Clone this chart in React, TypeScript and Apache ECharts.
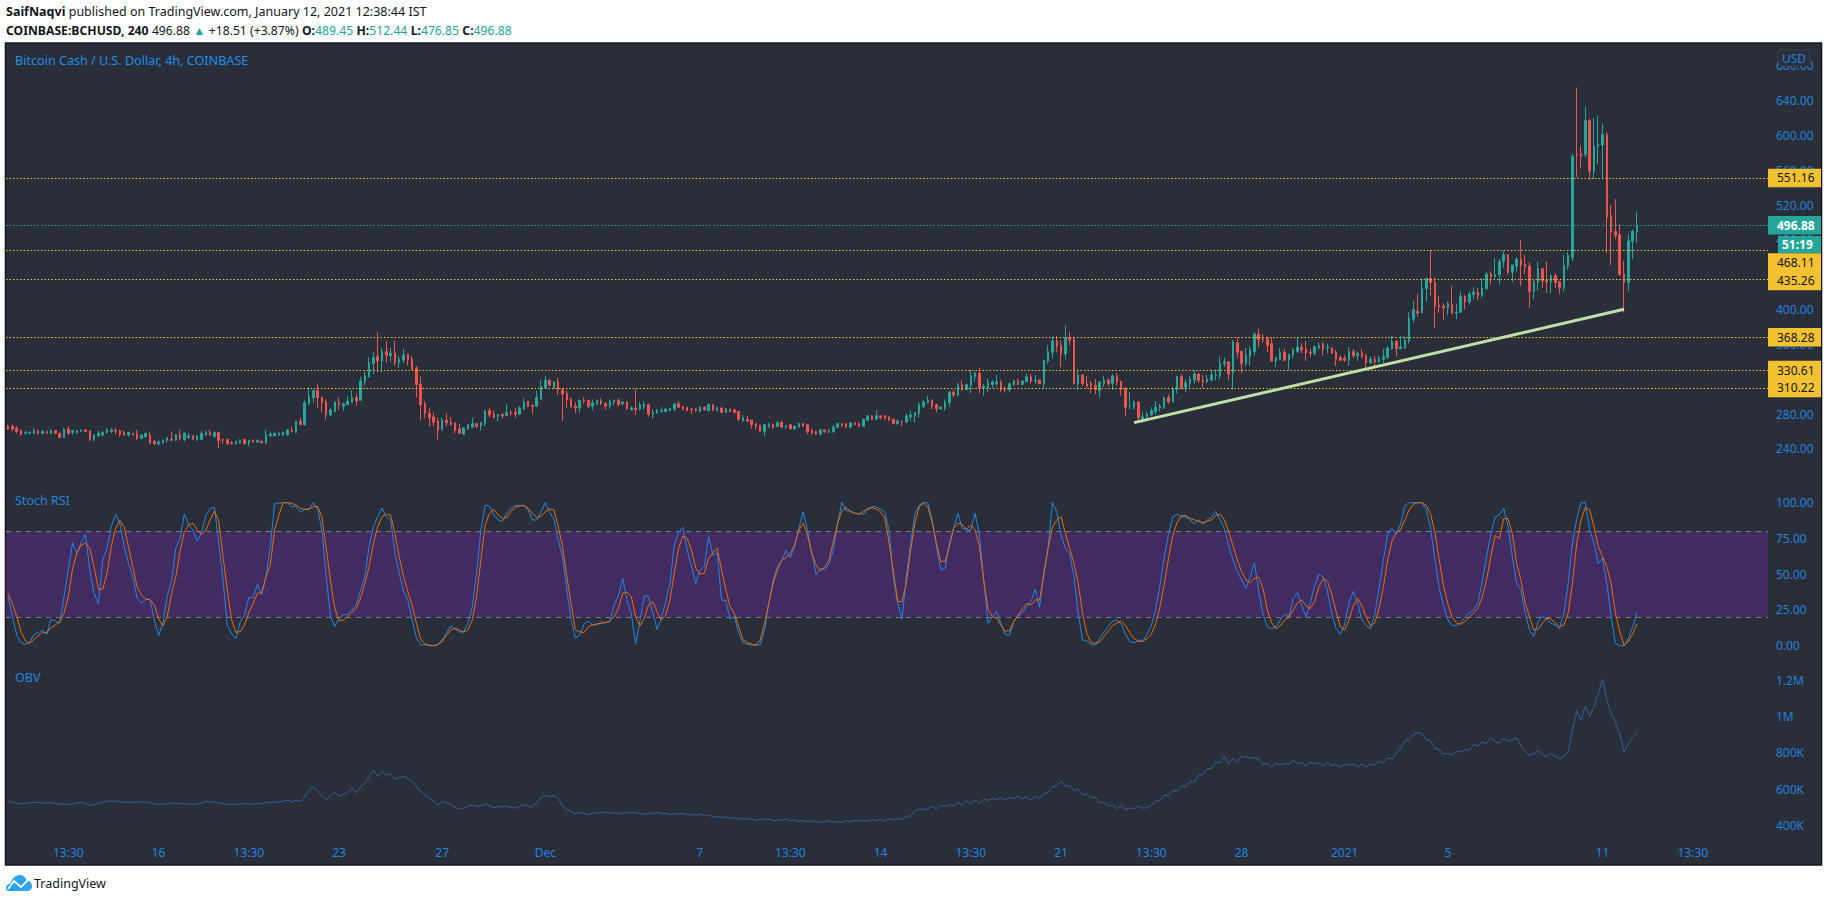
import React, { useEffect, useRef } from "react";
import * as echarts from "echarts";

const BG = "#2A2E39";
const BLUE = "#2183DE";
const TITLE_BLUE = "#1E8CEB";
const UP = "#26A69A";
const DOWN = "#EF5350";
const YEL = "#F2C230";
const FONT = "'Noto Sans', sans-serif";

const slotCount = 410;
const xLabelIndex = [14, 35, 56, 77, 101, 125, 161, 182, 203, 224, 245, 266, 287, 311, 335, 371, 392];
const xLabelText = ["13:30", "16", "13:30", "23", "27", "Dec", "7", "13:30", "14", "13:30", "21", "13:30", "28", "2021", "5", "11", "13:30"];

// [open, close, low, high]
const ohlc = [
[266,263,262,268],[266,263,260,268],[264,260,258,266],[261,257,255,262],[258,259,256,261],[258,259,257,260],[258,261,257,264],[261,258,256,262],[258,260,257,262],[260,258,258,261],
[258,261,257,263],[261,258,257,261.5],[258,253,253,259],[253,263,253,264],[263,258,256,266],[259,261,256,262],[259,261,257,262],[260,262,260,262],[262,260,260,262],[261,251,249,261],
[251,256,249,257],[255,258,254,261],[256,259,254,260],[259,262,258,264],[260,262,258,264],[261.5,260.5,257,264],[261,257,254,262],[259,256,255,261],[256,259,254,260],[258,256,256,258],
[258,252,250,262],[252,256,251,257],[254,258,253,259],[256,247,246,260],[249,246,244,250],[246,248,244,251],[247,250,246,251],[250,253,247,254],[251,250,249,260],[250,256,249,257],
[256,252,250,262],[251,258,249,259],[253,255,252,258],[255,251,251,256],[250,255,250,256],[251,258,251,260],[256,259,255,261],[259,256,255,262],[254,259,253,260],[259,250,241,260],
[251,250,246,251],[251,246,245,251],[247,246,245,249],[246,249,245,249.5],[247,250,246,251],[251,246,246,251],[247,250,243,250],[250,248,247,251],[248,250,247,251],[249,247,247,249],
[247,257,246,262],[255,257,254,260],[255,258,255,259],[256,258,255,260],[256,259,255,260],[256,262,256,262],[261,260,259,266],[259,272,258,272],[272,268,267,276],[268,293,267,296],
[292,300,290,311],[299,307,293,309],[307,299,287,315],[299,293,282,300],[294,279,274,297],[279,285,278,287],[283,294,282,295],[293,291,285,299],[289,292,284,293],[291,295,290,301],
[293,299,293,307],[299,295,290,304],[296,318,296,323],[317,324,313,329],[323,339,322,345],[338,345,326,351],[346,341,328,374],[341,352,328,356],[352,347,339,364],[347,350,340,356],
[350,339,336,364],[339,343,333,347],[342,348,339,355],[349,342,336,349],[343,331,331,347],[333,314,299,335],[314,291,273,323],[292,281,275,295],[281,276,266,287],[277,271,266,282],
[272,261,251,276],[262,273,261,276],[273,270,266,281],[271,268,267,277],[270,261,258,270],[263,258,257,269],[257,264,256,265],[263,268,262,268],[265,269,264,276],[269,266,264,269],
[266,270,261,271],[269,284,266,284],[284,279,276,287],[280,276,275,284],[277,280,272,280],[280,278,275,280],[278,282,278,291],[282,281,278,285],[282,280,276,287],[280,287,279,289],
[286,294,285,298],[295,289,288,295],[290,289,280,291],[289,299,289,307],[297,312,297,319],[310,319,309,324],[319,313,312,320],[310,317,309,318],[317,308,302,322],[308,303,272,310],
[304,296,287,307],[297,288,288,299],[289,287,281,294],[287,296,282,296],[296,295,292,299],[296,289,287,296],[289,293,285,297],[291,296,291,296],[295,292,290,298],[292,289,285,294],
[289,295,286,297],[294,296,290,296],[296,291,289,298],[292,294,290,295],[294,286,285,295],[285,287,284,289],[287,285,279,309],[286,291,284,294],[288,291,285,295],[291,280,277,291],
[280,282,275,286],[281,284,281,286],[283,284,282,288],[283,286,282,286],[284,287,284,287],[286,292,283,292],[292,288,287,295],[289,286,284,289],[288,284,284,288],[286,285,280,286],
[286,284,282,287],[283,288,282,289],[288,285,284,289],[284,291,283,292],[291,284,284,291],[284,287,283,289],[287,282,282,288],[282,286,282,287],[286,283,282,286],[285,282,281,286],
[283,274,272,283],[272,276,271,279],[274,272,271,278],[273,268,263,273],[269,266,262,270],[267,260,259,268],[260,268,255,268],[266,268,264,270],[268,265,263,269],[266,270,265,272],
[271,265,265,271],[265,267,263,267],[268,263,262,269],[263,266,262,267],[265,269,265,270],[269,266,266,270],[268,260,257,268],[261,258,257,263],[260,257,256,261],[257,262,256,263],
[262,260,258,262],[260,261,258,263],[260,265,258,268],[265,269,264,270],[269,267,265,270],[269,265,264,269],[265,270,265,270],[270,268,267,271],[269,266,266,271],[266,274,266,275],
[273,278,272,279],[278,274,273,279],[274,278,274,284],[278,276,274,279],[278,275,273,279],[277,273,272,277],[274,269,269,275],[269,272,268,274],[272,271,266,272],[271,278,270,281],
[277,279,272,284],[278,282,271,282],[281,291,276,294],[289,294,287,296],[293,296,292,301],[296,289,286,297],[291,286,282,292],[286,288,285,289],[287,294,284,297],[293,305,288,307],
[305,302,299,308],[302,314,300,316],[314,308,307,319],[308,314,308,315],[313,324,304,331],[323,327,317,329],[327,310,304,333],[310,312,301,315],[310,316,305,321],[314,317,310,319],
[315,317,312,325],[317,308,305,319],[309,308,305,312],[308,315,305,316],[314,318,312,320],[318,314,313,321],[314,318,313,318],[317,323,317,327],[323,318,315,326],[318,319,315,325],
[319,315,315,320],[315,342,310,342],[341,352,338,359],[351,364,344,369],[364,358,351,370],[359,349,334,365],[349,367,343,382],[367,365,359,374],[366,315,314,369],[315,325,308,331],
[325,315,312,326],[315,312,310,324],[315,312,304,318],[313,308,303,320],[307,317,299,318],[315,319,311,324],[319,315,312,321],[315,324,308,326],[324,317,313,327],[318,308,301,318],
[309,288,277,311],[289,290,286,305],[288,294,285,296],[294,276,271,295],[274,277,270,283],[277,280,273,283],[279,284,278,288],[283,288,279,295],[287,289,283,292],[288,299,286,300],
[299,294,292,303],[294,309,294,311],[308,323,304,324],[323,310,308,326],[311,316,305,320],[315,320,309,324],[319,326,315,330],[326,319,316,327],[319,317,310,325],[317,320,316,325],
[319,325,318,331],[324,325,319,331],[324,338,320,346],[338,340,334,345],[340,326,319,341],[327,363,308,365],[362,351,344,368],[352,338,327,353],[338,348,335,356],[346,354,336,358],
[352,372,347,374],[372,365,357,378],[366,365,362,372],[367,359,351,369],[361,341,341,368],[341,345,334,346],[343,351,342,356],[351,342,341,355],[342,349,331,349],[348,354,344,356],
[352,357,350,368],[357,354,350,361],[355,350,341,364],[351,350,346,355],[350,357,347,359],[356,359,354,362],[361,354,347,363],[356,357,350,361],[356,350,349,357],[351,343,335,354],
[345,342,341,347],[344,342,340,348],[342,352,336,357],[352,347,344,355],[347,350,341,352],[350,346,344,355],[347,339,333,349],[339,343,338,346],[343,340,335,347],[340,344,339,347],
[343,346,339,355],[345,356,343,358],[355,363,354,370],[364,355,346,364],[355,357,355,370],[356,365,355,369],[364,390,361,397],[389,400,385,410],[398,396,392,418],[396,425,396,436],
[424,436,409,437],[436,431,416,469],[431,404,379,437],[405,403,396,416],[404,402,388,407],[402,407,394,409],[406,396,395,427],[396,397,389,407],[397,415,396,421],[415,409,400,417],
[409,418,406,421],[417,420,412,426],[420,416,411,425],[416,425,414,436],[424,441,423,443],[441,438,429,444],[438,440,436,459],[440,455,429,458],[455,463,448,468],[463,443,440,464],
[443,451,432,452],[450,458,444,460],[458,451,427,480],[452,449,441,463],[450,421,402,454],[421,432,412,434],[431,447,422,455],[447,433,425,447],[434,432,419,455],[432,439,419,441],
[439,431,425,442],[432,425,418,433],[425,451,421,463],[450,462,446,466],[460,576,456,579],[579,578,552,655],[579,576,562,588],[578,617,575,633],[617,559,549,619],[559,588,550,620],
[587,590,567,623],[589,601,550,614],[601,506,465,604],[508,489,451,520],[490,485,481,527],[486,440,439,498],[441,431,397,456],[431,479,421,487],[478,490,458,492],[489.45,496.88,476.85,512.44],
];

const stochK = [
34.3,20.3,7.5,2.1,1,2.4,8,9.1,10.8,8,18.5,17.3,15.7,34.3,53,72.1,64.6,72.3,77.9,53,
36.6,29.2,60,68.1,83.3,91.9,85.6,69.3,57.6,48.3,33.2,29.6,32.4,32.4,18,7,15.7,34.3,44.8,68.1,
75.1,92.1,84.4,80.9,73.2,78.6,91.4,95.6,96.8,71.6,46,14,8.7,5,16.8,21.3,33.6,33.4,43,35.5,
48.3,69.3,99.6,99.6,100,100,97.3,97.3,93.3,95.4,95.4,100,95.6,80.9,48.3,20.8,13.3,19.2,21.7,22,
25,28.5,39,48.3,69.3,83.3,90.3,96.1,90.3,87.9,64.6,50.6,37.8,32,18,5.6,0.5,0.5,0.5,0,
0.5,4,8.7,13.8,11.7,9.6,9.6,15.7,27.3,50.6,80.9,98.2,97.7,91.4,87.9,87,92.6,96.1,98,98,
98.2,94.9,87.9,87.9,93.8,100,93.3,88.4,73.9,62.3,39,18,5.2,7.5,15.2,17.3,
14.5,14.5,16.8,16.1,16.8,28.5,34.7,47.1,32,22.2,1.2,16.8,34.7,34.7,22.6,11.4,19.1,30.8,43.6,70.4,
79,82.8,66.9,55.3,43.6,53,55.3,76.3,63.4,65,32,31.5,18.4,20.3,8.6,2.1,1,0.5,0.5,0.5,
11,29.6,45.9,55.3,59.5,66.5,61.6,69.3,82.1,93.5,80.9,64.6,49.9,54.1,53,57.1,66.9,85.6,100,94.4,
94.4,92.6,92.1,92.1,94.9,97.2,97.2,95.4,93.7,79.7,47.1,29.6,18.4,48.3,71.6,92.6,98.4,100,100,87.9,
69.3,53,54.1,71.6,82.1,92.6,82.1,80.9,80.9,92.6,77.4,45.9,15.6,20.3,23.8,15.6,7.9,7.2,16.8,20.8,
23.1,27.3,30.8,39.4,26.8,51.8,69.3,100,93.7,77.4,68.1,64.6,48.3,22.6,4,3.5,0.5,0.5,5.1,9.8,13.8,
17,18,15,8,3,2,4,3,8,14,25,42,62,78,90,92,90,90,88,85,88,85,88,90,94,88,82,70,60,52,
46,40,48,58,38,22,13,12,13,18,22,20,33,37,28,20,30,42,50,48,38,22,12,8,15,30,38,30,18,14,
12,22,40,60,78,82,78,85,98,100,100,100,100,95,82,60,40,28,18,14,14,16,20,23,25,30,45,62,78,90,
91.4,96.1,83.3,62.3,43.6,39,22.7,11,6.3,16.8,20.8,18.5,15.7,14.5,12,22.7,43.6,71.6,89.1,100,100,81,71.6,57.2,61.1,43.6,20.3,1.6,0,0,5,13,23.1,
];

const stochD = [
36.6,29.2,20.3,9.8,3.5,1.7,4.5,7,9.4,9.2,12.6,14.5,16.8,22.7,34.3,54.1,64.6,70.4,71.6,68.1,
55.3,39.4,39.4,50.6,69.3,82.1,87.5,82.8,69.3,55.3,41.3,35.5,32.4,32.4,28.5,19.2,13.8,20.3,35.5,48.3,
65.8,79.8,84.4,85.6,80.9,77.9,80.9,87.9,94.5,86.8,62.3,39,18,9.4,9.8,14.5,23.1,29.6,36.6,37.1,
48.3,56.5,80.9,91.4,100,100,99.6,98.4,96.1,95.4,95.4,97.3,97.3,90.3,68.1,46,26.2,17.5,18,20.3,
23.4,26.2,33.2,43.6,55.3,71.6,83.3,90.3,91.9,91.2,78.6,62.3,48.3,37.8,28.5,15.7,4.5,1.2,0,0,
1,2.8,7.5,11,12.2,11,9.6,11,18,34.3,60,84.4,92.6,95.4,91.4,88.9,89.6,93.8,96.6,97.7,
98,96.1,92.6,89.6,90.3,93.8,95.6,94.9,83.3,69.3,48.3,29.6,11,9.8,9.1,13.3,
14.5,15.2,15.6,16.1,17.3,20.3,26.1,36.6,37.5,34.3,20.3,14,19.1,28.5,30.8,23.8,18,21.5,32,50.6,
68.1,76.7,75.1,66.9,54.1,50.1,50.6,61.1,65,68.1,53,39,27.3,22.2,13.3,4,2.4,1,0.3,4,
15.6,29.6,43.6,53,59.9,61.6,64.6,70.4,80.9,85.6,77.4,64.6,56.4,52.5,54.8,59.9,72.8,85.6,94.4,96.8,
93.7,92.6,92.1,93.7,96.1,96.5,95.6,93.7,89.1,71.6,51.8,30.8,30.8,43.6,66.9,85.6,97.2,99.6,97.2,86.7,
71.6,58.8,58.8,69.3,82.1,85.6,84.9,81.4,84.4,80.9,69.3,45.9,26.1,20.3,19.1,14.5,10.3,10.5,16.8,21.5,
25.4,29.6,28.5,32,32,49.4,68.1,83.2,87.9,90.2,78.6,68.1,57.6,43.6,22.6,8.6,2.1,1.6,2.8,6.3,10.5,
14,16,17,14,9,5,3,3,5,8,15,27,43,61,77,86,91,91,89,88,87,86,87,88,91,92,88,80,70,60,
52,46,44,47,48,40,25,16,12,14,18,20,25,30,32,28,26,31,41,47,45,36,24,13,11,18,28,33,28,20,
14,16,26,41,60,73,79,81,88,95,99,100,100,98,92,79,60,42,29,20,16,15,17,20,23,26,34,46,62,77,
75,88.9,88.9,78.6,57.6,46,29.7,20.3,11,11.5,15.7,19.2,18.5,16.1,13.3,14.5,22.7,43.6,71.6,87.9,96.6,95,83.3,69.3,62.3,55.3,43.6,22.7,10,0.2,3,8,15.2,
];

const obv = [
535,528,522,519,522,524,528,526,522,526,526,520,517,517,515,519,524,528,519,511,
515,522,528,533,535,533,530,528,528,528,528,530,530,526,519,517,519,520,522,522,
520,519,517,517,519,524,532,530,530,524,520,517,515,517,519,520,519,519,519,520,
526,528,528,530,533,539,530,539,532,556,593,615,587,565,543,563,583,561,570,582,
608,580,615,633,667,704,671,698,678,685,654,663,671,658,645,615,589,569,550,533,
513,532,524,517,500,489,496,506,513,506,508,522,508,498,504,506,508,500,495,506,
513,508,500,528,556,565,557,565,546,504,487,478,465,472,467,458,467,470,
470,474,468,470,463,468,472,468,473,464,462,467,463,
472,465,468,459,466,462,466,458,461,456,463,456,458,447,449,
441,447,440,443,434,441,435,436,428,436,433,435,426,431,429,
436,427,431,423,427,420,426,417,421,418,426,417,422,416,426,420,428,424,428,423,
434,425,431,424,437,428,438,434,450,452,482,486,492,488,506,
490,510,505,516,506,526,512,534,520,540,522,545,538,549,542,553,540,556,546,562,
546,558,540,562,548,575,584,612,618,645,618,620,592,598,568,
574,552,556,524,528,506,512,492,510,488,496,492,510,494,498,
512,535,540,566,566,592,590,618,612,642,640,680,680,712,716,748,745,782,738,772,
748,782,778,772,774,766,738,742,722,742,735,741,739,758,742,746,729,750,740,744,
726,746,730,736,722,740,732,741,724,738,722,741,734,754,746,774,768,798,822,868,
872,902,912,908,872,868,826,818,792,798,788,808,806,818,814,846,838,860,854,888,862,
856,880,865,870,885,839,811,787,798,811,793,778,796,781,769,782,806,926,1032,982,1059,1000,1056,1130,1207,1093,1019,972,908,806,852,885,915,
];

const priceLevels = [551.16, 468.11, 435.26, 368.28, 330.61, 310.22];
const priceLabelShift = [0, 12.3, 2, 0, 0, 0];
const tickLevels = [551.16, 496.88, 454, 435.26, 368.28, 330.61, 310.22];
const lastPrice = 496.88;
const stochBands = [80, 20];
const trendFrom = [262, 270.2];
const trendTo = [376, 400.4];

const gridL = 6;
const gridR = 1768;

echarts.graphic.registerShape(
  "tvcloud",
  echarts.graphic.extendPath(
    "M0 13 C0 10.5 2 8.8 4.5 8.5 C6 4 9 0 13.5 0 C17 0 19.5 2 20.5 5 C23.5 5.5 26 8 26 11 C26 14 24 16 21 16 L3 16 C1 16 0 15 0 13Z",
    {}
  )
);

export default function App() {
  const ref = useRef<HTMLDivElement>(null);
  useEffect(() => {
    const chart = echarts.init(ref.current!, undefined, { renderer: "svg" });
    const categories = Array.from({ length: slotCount }, (_, i) => String(i));
    const labelAt = new Map(xLabelIndex.map((ix, k) => [ix, xLabelText[k]]));
    const hiddenX = { type: "category", data: categories, show: false, boundaryGap: true };
    const yBase = {
      position: "right",
      axisLine: { show: false },
      axisTick: { show: false },
      splitLine: { show: false },
      scale: false,
    };
    const lab = (formatter: any) => ({ color: BLUE, fontSize: 12, fontFamily: FONT, margin: 8, formatter });

    const priceTag = (v: number, shift: number) => [
      {
        x: gridL,
        yAxis: v,
        lineStyle: { color: YEL, type: [1.5, 2], width: 1 },
        label: {
          show: true,
          position: "end",
          distance: 0,
          formatter: v.toFixed(2),
          backgroundColor: YEL,
          color: "#131722",
          fontSize: 12,
          fontFamily: FONT,
          padding: [2, 0, 2, 9],
          width: 44,
          height: 14.7,
          lineHeight: 14.7,
          offset: [0, shift],
        },
      },
      { x: gridR, yAxis: v },
    ];
    const tick = (v: number) => [
      { x: gridR, yAxis: v, lineStyle: { color: "#131722", type: "solid", width: 1 }, label: { show: false } },
      { x: gridR + 5, yAxis: v },
    ];

    const option: any = {
      animation: false,
      backgroundColor: "#FFFFFF",
      tooltip: { show: false },
      legend: { show: false },
      grid: [
        { left: gridL, width: gridR - gridL, top: 44, height: 439.8, containLabel: false },
        { left: gridL, width: gridR - gridL, top: 466.95, height: 214.5, containLabel: false },
        { left: gridL, width: gridR - gridL, top: 644.2, height: 217.5, containLabel: false },
      ],
      xAxis: [
        { ...hiddenX, gridIndex: 0 },
        { ...hiddenX, gridIndex: 1 },
        {
          type: "category",
          data: categories,
          gridIndex: 2,
          boundaryGap: true,
          axisLine: { show: false },
          axisTick: { show: false },
          splitLine: { show: false },
          axisLabel: {
            inside: true,
            margin: 3,
            color: BLUE,
            fontSize: 12,
            fontFamily: FONT,
            interval: (i: number) => labelAt.has(i),
            formatter: (_: string, i: number) => labelAt.get(i) ?? "",
          },
        },
      ],
      yAxis: [
        {
          ...yBase,
          type: "value",
          gridIndex: 0,
          min: 200,
          max: 705,
          interval: 40,
          axisLabel: lab((v: number) => (v >= 240 && v % 40 === 0 ? v.toFixed(2) : "")),
        },
        {
          ...yBase,
          type: "value",
          gridIndex: 1,
          min: -25,
          max: 125,
          interval: 25,
          axisLabel: lab((v: number) => (v >= 0 && v <= 100 ? v.toFixed(2) : "")),
        },
        {
          ...yBase,
          type: "value",
          gridIndex: 2,
          min: 200,
          max: 1400,
          interval: 200,
          axisLabel: lab((v: number) =>
            v < 400 || v > 1200 ? "" : v >= 1000 ? `${+(v / 1000).toFixed(1)}M` : `${v}K`
          ),
        },
      ],
      series: [
        {
          type: "candlestick",
          name: "BCHUSD",
          xAxisIndex: 0,
          yAxisIndex: 0,
          data: ohlc,
          barWidth: 2,
          z: 3,
          itemStyle: { color: UP, color0: DOWN, borderColor: UP, borderColor0: DOWN, borderWidth: 1 },
          markLine: {
            silent: true,
            symbol: ["none", "none"],
            z: 6,
            data: [
              ...priceLevels.map((v, k) => priceTag(v, priceLabelShift[k])),
              [
                {
                  x: gridL,
                  yAxis: lastPrice,
                  lineStyle: { color: UP, type: [1.5, 2], width: 1 },
                  label: {
                    show: true,
                    position: "end",
                    distance: 0,
                    formatter: lastPrice.toFixed(2),
                    backgroundColor: UP,
                    color: "#FFFFFF",
                    fontWeight: "bold",
                    fontSize: 12,
                    fontFamily: FONT,
                    padding: [2, 0, 2, 9],
                    width: 44,
                    height: 14.7,
                    lineHeight: 14.7,
                  },
                },
                { x: gridR, yAxis: lastPrice },
              ],
              [
                {
                  xAxis: trendFrom[0],
                  yAxis: trendFrom[1],
                  lineStyle: { color: "#BFE0A8", type: "solid", width: 3 },
                  label: { show: false },
                },
                { xAxis: trendTo[0], yAxis: trendTo[1] },
              ],
              ...tickLevels.map(tick),
            ],
          },
        },
        {
          type: "line",
          name: "%K",
          xAxisIndex: 1,
          yAxisIndex: 1,
          data: stochK,
          showSymbol: false,
          symbol: "none",
          z: 3,
          lineStyle: { color: "#1E88E5", width: 1 },
          markArea: {
            silent: true,
            z: 1,
            itemStyle: { color: "#412B60" },
            data: [[{ x: gridL, yAxis: stochBands[0] }, { x: gridR, yAxis: stochBands[1] }]],
          },
          markLine: {
            silent: true,
            symbol: ["none", "none"],
            z: 1,
            label: { show: false },
            lineStyle: { color: "#787B86", type: [5, 5], width: 1 },
            data: stochBands.map((v) => [
              { x: gridL, yAxis: v },
              { x: gridR, yAxis: v },
            ]),
          },
        },
        {
          type: "line",
          name: "%D",
          xAxisIndex: 1,
          yAxisIndex: 1,
          data: stochD,
          showSymbol: false,
          symbol: "none",
          z: 4,
          lineStyle: { color: "#EF6C00", width: 1 },
        },
        {
          type: "line",
          name: "OBV",
          xAxisIndex: 2,
          yAxisIndex: 2,
          data: obv,
          showSymbol: false,
          symbol: "none",
          z: 3,
          lineStyle: { color: "#2F5F9E", width: 1 },
        },
      ],
      graphic: [
        {
          type: "rect",
          z: -10,
          shape: { x: 5.5, y: 43, width: 1816, height: 822 },
          style: { fill: BG, stroke: "#131722", lineWidth: 1.6 },
          silent: true,
        },
        {
          type: "text",
          z: 100,
          x: 6,
          y: 11,
          style: {
            text: "{b|SaifNaqvi} {n|published on TradingView.com, January 12, 2021 12:38:44 IST}",
            verticalAlign: "middle",
            rich: {
              b: { fontFamily: FONT, fontSize: 12.5, fontWeight: "bold", fill: "#131722" },
              n: { fontFamily: FONT, fontSize: 12.5, fill: "#131722" },
            },
          },
        },
        {
          type: "text",
          z: 100,
          x: 6,
          y: 30.5,
          style: {
            text:
              "{b|COINBASE:BCHUSD, 240} {n|496.88} {t|▲} {n|+18.51 (+3.87%)} {b|O:}{t|489.45} {b|H:}{t|512.44} {b|L:}{t|476.85} {b|C:}{t|496.88}",
            verticalAlign: "middle",
            rich: {
              b: { fontFamily: FONT, fontSize: 12.2, fontWeight: "bold", fill: "#131722" },
              n: { fontFamily: FONT, fontSize: 12.2, fill: "#131722" },
              t: { fontFamily: FONT, fontSize: 12.2, fill: UP },
            },
          },
        },
        {
          type: "text",
          z: 100,
          x: 15,
          y: 60,
          style: { text: "Bitcoin Cash / U.S. Dollar, 4h, COINBASE", fill: TITLE_BLUE, fontFamily: FONT, fontSize: 12.6, verticalAlign: "middle" },
        },
        {
          type: "text",
          z: 100,
          x: 15,
          y: 500.5,
          style: { text: "Stoch RSI", fill: BLUE, fontFamily: FONT, fontSize: 12.5, verticalAlign: "middle" },
        },
        {
          type: "text",
          z: 100,
          x: 15,
          y: 677,
          style: { text: "OBV", fill: BLUE, fontFamily: FONT, fontSize: 12.5, verticalAlign: "middle" },
        },
        {
          type: "rect",
          z: 100,
          shape: { x: 1778, y: 50, width: 32, height: 16, r: 3 },
          style: { fill: BG, stroke: "#3A3E4A", lineWidth: 1 },
        },
        {
          type: "text",
          z: 101,
          x: 1794,
          y: 58,
          style: { text: "USD", fill: BLUE, fontFamily: FONT, fontSize: 12, align: "center", verticalAlign: "middle" },
        },
        {
          type: "rect",
          z: 100,
          shape: { x: 1778, y: 236, width: 43, height: 17 },
          style: { fill: UP },
        },
        {
          type: "text",
          z: 101,
          x: 1782,
          y: 244.5,
          style: { text: "51:19", fill: "#FFFFFF", fontFamily: FONT, fontSize: 12, fontWeight: "bold", verticalAlign: "middle" },
        },
        {
          type: "tvcloud",
          z: 100,
          x: 6,
          y: 875,
          style: { fill: "#2BA4F3" },
        },
        {
          type: "polyline",
          z: 101,
          shape: { points: [[8, 889], [14, 881], [21, 887], [28, 880]] },
          style: { stroke: "#FFFFFF", fill: "none", lineWidth: 1.8 },
        },
        {
          type: "text",
          z: 100,
          x: 34,
          y: 883,
          style: { text: "TradingView", fill: "#131722", fontFamily: FONT, fontSize: 12.5, verticalAlign: "middle" },
        },
      ],
    };
    chart.setOption(option);
    return () => chart.dispose();
  }, []);
  return (
    <div
      ref={ref}
      style={{ position: "absolute", left: 0, top: 0, width: 1828, height: 902, background: "#FFFFFF" }}
    />
  );
}
